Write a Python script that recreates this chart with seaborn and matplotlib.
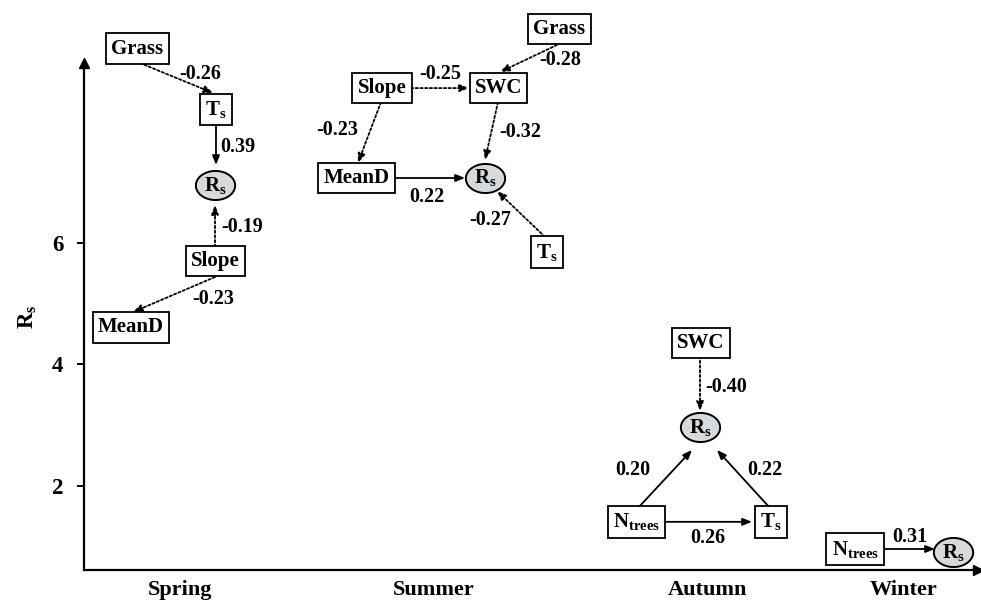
import numpy as np
import pandas as pd
import matplotlib
matplotlib.use("Agg")
import matplotlib.pyplot as plt
from matplotlib.path import Path
import seaborn as sns

# ---------------- data ----------------
seasons = ["Spring", "Summer", "Autumn", "Winter"]
season_x = [9.6, 35.0, 62.3, 82.0]
y_ticks = [2, 4, 6]

# boxes (observed variables)
box_labels = ["Grass", r"T$_\mathrm{s}$", "Slope", "MeanD",
              "Grass", "Slope", "SWC", "MeanD", r"T$_\mathrm{s}$",
              "SWC", r"N$_\mathrm{trees}$", r"T$_\mathrm{s}$",
              r"N$_\mathrm{trees}$"]
box_x = [5.35, 13.2, 13.15, 4.7,
         47.55, 29.8, 41.45, 27.25, 46.3,
         61.7, 55.25, 68.7,
         77.1]
box_y = [9.20, 8.20, 5.70, 4.61,
         9.52, 8.55, 8.55, 7.07, 5.85,
         4.35, 1.41, 1.41,
         0.96]

# R_s nodes (circles)
rs_x = [13.1, 40.1, 61.6, 86.9]
rs_y = [6.95, 7.07, 2.97, 0.91]

# path coefficients (arrows)
edge_coef = [-0.26, 0.39, -0.19, -0.23,
             -0.25, -0.28, -0.23, -0.32, 0.22, -0.27,
             -0.40, 0.20, 0.22, 0.26,
             0.31]
edge_x0 = [5.6, 13.2, 13.1, 13.1,
           32.7, 47.3, 29.7, 41.4, 31.1, 46.1,
           61.6, 55.4, 68.6, 58.2,
           80.0]
edge_y0 = [8.963, 7.926, 5.934, 5.44,
           8.55, 9.26, 8.32, 8.32, 7.07, 6.10,
           4.14, 1.638, 1.638, 1.41,
           0.963]
edge_x1 = [12.9, 13.2, 13.1, 4.9,
           38.5, 41.6, 27.4, 40.1, 38.1, 41.3,
           61.6, 60.8, 63.3, 66.8,
           85.1]
edge_y1 = [8.469, 7.284, 6.626, 4.864,
           8.55, 8.815, 7.32, 7.366, 7.07, 6.856,
           3.235, 2.593, 2.593, 1.41,
           0.963]
label_x = [11.6, 15.4, 15.8, 12.9,
           35.6, 47.6, 25.3, 43.6, 34.3, 40.6,
           64.2, 54.9, 68.1, 62.4,
           82.6]
label_y = [8.78, 7.58, 6.26, 5.08,
           8.78, 9.01, 7.86, 7.83, 6.76, 6.38,
           3.63, 2.26, 2.26, 1.144,
           1.16]

# ---------------- style ----------------
sns.set_theme(style="ticks")
plt.rcParams["font.family"] = ["Liberation Serif", "DejaVu Serif"]
plt.rcParams["font.weight"] = "bold"
plt.rcParams["mathtext.fontset"] = "custom"
plt.rcParams["mathtext.rm"] = "Liberation Serif:bold"
plt.rcParams["mathtext.it"] = "Liberation Serif:bold"
plt.rcParams["mathtext.bf"] = "Liberation Serif:bold"

FS_NODE = 15
FS_COEF = 14.5

fig = plt.figure(figsize=(9.81, 6.03), dpi=100)
ax = fig.add_axes([84 / 981, 33 / 603, (978 - 84) / 981, (570 - 63) / 603])
ax.set_xlim(0, 89.4)
ax.set_ylim(0.617, 8.963)

# axes styling
sns.despine(ax=ax)
for s in ["left", "bottom"]:
    ax.spines[s].set_linewidth(1.6)
    ax.spines[s].set_color("black")
ax.plot([0], [1], marker="^", color="black", ms=7, transform=ax.transAxes,
        clip_on=False, zorder=5)
ax.plot([1], [0], marker=">", color="black", ms=7, transform=ax.transAxes,
        clip_on=False, zorder=5)

ax.set_yticks(y_ticks)
ax.set_yticklabels([str(t) for t in y_ticks], fontsize=16.5, fontweight="bold")
ax.tick_params(axis="y", length=5, width=1.4, color="black", pad=10,
               labelcolor="black")
ax.set_xticks(season_x)
ax.set_xticklabels(seasons, fontsize=16, fontweight="bold")
ax.tick_params(axis="x", length=0, pad=7, labelcolor="black")
ax.grid(False)

# arrows
for x0, y0, x1, y1, c, lx, ly in zip(edge_x0, edge_y0, edge_x1, edge_y1,
                                     edge_coef, label_x, label_y):
    ls = (0, (1.3, 1.3)) if c < 0 else "-"
    ax.annotate("", xy=(x1, y1), xytext=(x0, y0),
                arrowprops=dict(arrowstyle="-|>,head_length=0.45,head_width=0.18",
                                linestyle=ls, lw=1.3, color="black",
                                shrinkA=0, shrinkB=0),
                annotation_clip=False, zorder=2)
    ax.text(lx, ly, f"{c:.2f}", fontsize=FS_COEF, fontweight="bold",
            ha="center", va="center", color="black", zorder=4, clip_on=False)

# boxes
for lab, x, y in zip(box_labels, box_x, box_y):
    ax.text(x, y, lab, fontsize=FS_NODE, fontweight="bold", ha="center",
            va="center", color="black", zorder=6, clip_on=False,
            bbox=dict(boxstyle="square,pad=0.25", fc="white", ec="black",
                      lw=1.3))

# R_s circles (ellipses) via seaborn scatter
t = np.linspace(0, 2 * np.pi, 100)
ell = Path(np.column_stack([np.cos(t), 0.74 * np.sin(t)]), closed=True)
rs_df = pd.DataFrame({"x": rs_x, "y": rs_y})
sns.scatterplot(data=rs_df, x="x", y="y", marker=ell, s=800,
                color="#d6dadd", edgecolor="black", linewidth=1.4,
                ax=ax, zorder=6, clip_on=False, legend=False)
for x, y in zip(rs_x, rs_y):
    ax.text(x, y, r"R$_\mathrm{s}$", fontsize=FS_NODE, fontweight="bold",
            ha="center", va="center", color="black", zorder=7, clip_on=False)
ax.set_xlabel("")
ax.set_ylabel(r"R$_\mathrm{s}$", fontsize=16.5, fontweight="bold", labelpad=9,
              color="black")

fig.savefig("out.png", dpi=100)
